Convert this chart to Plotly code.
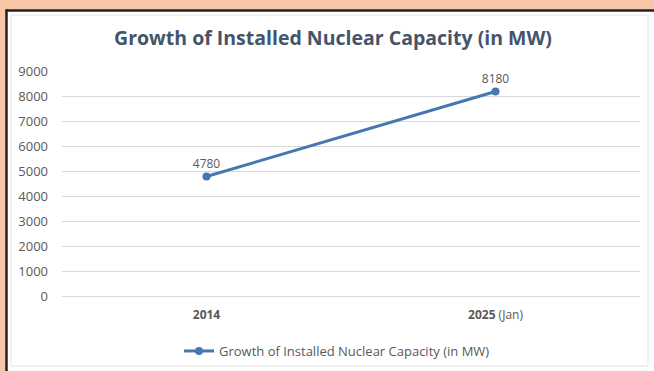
import plotly.graph_objects as go

categories = ["2014", "2025 (Jan)"]
tick_labels = ["<b>2014</b>", "<b>2025</b> (Jan)"]
capacity_mw = [4780, 8180]
series_name = "Growth of Installed Nuclear Capacity (in MW)"

W, H = 654, 371
L, R, T, B = 62, 14, 71, 75
pw, ph = W - L - R, H - T - B
FONT = "Open Sans, sans-serif"

def px_x(p):
    return (p - L) / pw

def px_y(p):
    return (H - B - p) / ph

fig = go.Figure()
fig.add_trace(go.Scatter(
    x=categories, y=capacity_mw, mode="lines+markers+text",
    name=series_name,
    line=dict(color="#4677B0", width=3),
    marker=dict(color="#4677B0", size=8),
    text=[str(v) for v in capacity_mw], textposition="top center",
    textfont=dict(family=FONT, size=12, color="#595959"),
    cliponaxis=False,
))

shapes = [
    # white panel
    dict(type="rect", xref="paper", yref="paper", layer="below",
         x0=px_x(6), x1=px_x(W + 40), y0=px_y(H + 40), y1=px_y(10),
         line=dict(width=0), fillcolor="white"),
    # dark frame edges (left and top)
    dict(type="line", xref="paper", yref="paper", layer="below",
         x0=px_x(6.5), x1=px_x(6.5), y0=px_y(H + 40), y1=px_y(9.5),
         line=dict(color="#222222", width=2.5)),
    dict(type="line", xref="paper", yref="paper", layer="below",
         x0=px_x(5.5), x1=px_x(W + 40), y0=px_y(10.5), y1=px_y(10.5),
         line=dict(color="#222222", width=2.5)),
    # faint inner chart border
    dict(type="rect", xref="paper", yref="paper", layer="below",
         x0=px_x(11), x1=px_x(648), y0=px_y(366), y1=px_y(15),
         line=dict(color="#E3E3E3", width=1), fillcolor="rgba(0,0,0,0)"),
]

fig.update_layout(
    width=W, height=H,
    margin=dict(l=L, r=R, t=T, b=B, autoexpand=False),
    paper_bgcolor="#F6C6A6", plot_bgcolor="white",
    shapes=shapes,
    title=dict(text="<b>Growth of Installed Nuclear Capacity (in MW)</b>",
               x=333 / W, xref="container", xanchor="center",
               y=1 - 38 / H, yref="container", yanchor="middle",
               font=dict(family=FONT, size=19.5, color="#44546A")),
    xaxis=dict(type="category", range=[-0.5, 1.5], tickmode="array",
               tickvals=categories, ticktext=tick_labels, automargin=False,
               showgrid=False, showline=False, zeroline=False, ticks="",
               tickfont=dict(family=FONT, size=12, color="#595959"),
               ticklabelstandoff=10),
    yaxis=dict(range=[0, 9000], dtick=1000, showgrid=True, gridcolor="#D9D9D9", gridwidth=1,
               zeroline=True, zerolinecolor="#D9D9D9", zerolinewidth=1, automargin=False,
               showline=False, ticks="",
               tickfont=dict(family=FONT, size=13, color="#595959"),
               ticklabelstandoff=13),
    showlegend=True,
    legend=dict(orientation="h", x=px_x(337), xanchor="center", y=px_y(351), yanchor="middle",
                font=dict(family=FONT, size=13, color="#595959"),
                bgcolor="rgba(0,0,0,0)"),
)

fig.write_html("out.html")
